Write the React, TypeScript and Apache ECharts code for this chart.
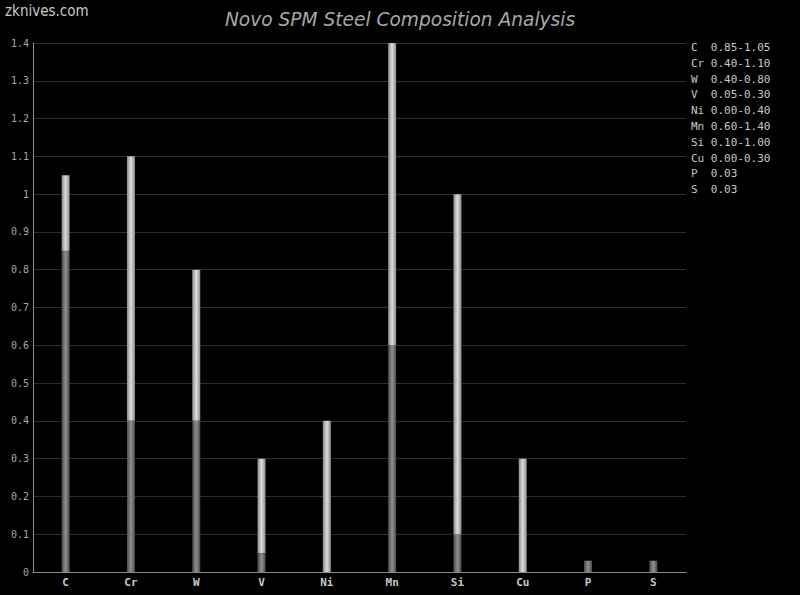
import React, { useEffect, useRef } from "react";
import * as echarts from "echarts";

const categories = ["C", "Cr", "W", "V", "Ni", "Mn", "Si", "Cu", "P", "S"];
const minValues = [0.85, 0.4, 0.4, 0.05, 0.0, 0.6, 0.1, 0.0, 0.03, 0.03];
const maxValues = [1.05, 1.1, 0.8, 0.3, 0.4, 1.4, 1.0, 0.3, 0.03, 0.03];
const legendLabels = [
  "0.85-1.05",
  "0.40-1.10",
  "0.40-0.80",
  "0.05-0.30",
  "0.00-0.40",
  "0.60-1.40",
  "0.10-1.00",
  "0.00-0.30",
  "0.03",
  "0.03",
];

const mono = "'DejaVu Sans Mono', 'Liberation Mono', monospace";

export default function App() {
  const ref = useRef<HTMLDivElement>(null);
  useEffect(() => {
    if (!ref.current) return;
    const chart = echarts.init(ref.current, null, { renderer: "svg" });
    const darkGrad = new echarts.graphic.LinearGradient(0, 0, 1, 0, [
      { offset: 0, color: "#4a4a4a" },
      { offset: 0.5, color: "#909090" },
      { offset: 1, color: "#4a4a4a" },
    ]);
    const lightGrad = new echarts.graphic.LinearGradient(0, 0, 1, 0, [
      { offset: 0, color: "#8a8a8a" },
      { offset: 0.5, color: "#dcdcdc" },
      { offset: 1, color: "#8a8a8a" },
    ]);
    const rangeValues = maxValues.map((m, i) => +(m - minValues[i]).toFixed(2));
    const legendTexts = categories.map((c, i) => ({
      type: "text",
      left: 691,
      top: 42 + i * 15.8,
      style: {
        text: (c + "  ").slice(0, 3) + legendLabels[i],
        fill: "#c8c8c8",
        font: `11px ${mono}`,
      },
    }));
    chart.setOption({
      animation: false,
      backgroundColor: "#000",
      title: {
        text: "Novo SPM Steel Composition Analysis",
        left: "center",
        top: 5,
        textStyle: {
          color: "#a8a8a8",
          fontStyle: "italic",
          fontWeight: "normal",
          fontSize: 18.6,
          fontFamily: "'DejaVu Sans', sans-serif",
        },
      },
      graphic: [
        {
          type: "text",
          left: 5,
          top: 3,
          style: {
            text: "zknives.com",
            fill: "#c8c8c8",
            font: "15px 'DejaVu Sans Condensed', 'DejaVu Sans', sans-serif",
          },
        },
        ...legendTexts,
      ],
      grid: { left: 33, right: 114, top: 43, bottom: 23, containLabel: false },
      xAxis: {
        type: "category",
        data: categories,
        axisLine: { lineStyle: { color: "#8a8a8a" } },
        axisTick: { show: false },
        axisLabel: {
          color: "#c8c8c8",
          fontFamily: mono,
          fontSize: 11,
          fontWeight: "bold",
          margin: 5,
        },
      },
      yAxis: {
        type: "value",
        min: 0,
        max: 1.4,
        interval: 0.1,
        axisLine: { show: true, lineStyle: { color: "#8a8a8a" } },
        axisTick: { show: false },
        splitLine: { lineStyle: { color: "#2e2e2e" } },
        axisLabel: {
          color: "#a8a8a8",
          fontFamily: mono,
          fontSize: 10,
          margin: 4,
        },
      },
      series: [
        {
          type: "bar",
          stack: "total",
          data: minValues,
          barWidth: 8,
          itemStyle: { color: darkGrad },
        },
        {
          type: "bar",
          stack: "total",
          data: rangeValues,
          barWidth: 8,
          itemStyle: { color: lightGrad },
        },
      ],
    });
    return () => chart.dispose();
  }, []);
  return (
    <div
      ref={ref}
      style={{ position: "fixed", left: 0, top: 0, width: 800, height: 595 }}
    />
  );
}
